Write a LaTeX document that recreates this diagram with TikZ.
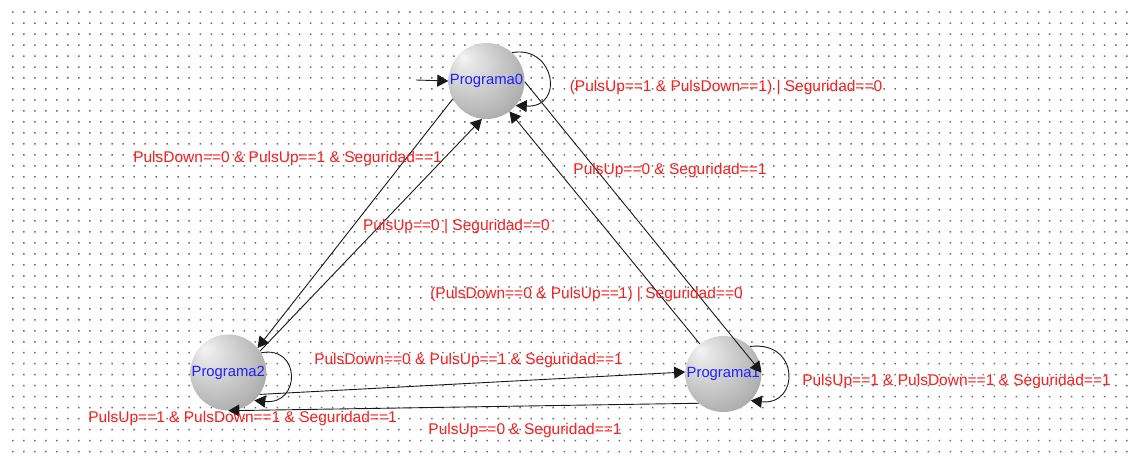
\documentclass[tikz,border=0pt]{standalone}
\usepackage{fontspec}
\setmainfont{Liberation Sans}
\usetikzlibrary{arrows.meta}
\definecolor{lblred}{RGB}{255,28,28}
\definecolor{stblue}{RGB}{30,30,255}
\pgfdeclareradialshading{sphereshade}{\pgfpoint{-16bp}{16bp}}{color(0bp)=(black!4); color(6bp)=(black!10); color(30bp)=(black!30); color(50bp)=(black!52)}
\begin{document}
\begin{tikzpicture}[x=1pt,y=-1pt,
  state/.style={circle, minimum size=76pt, inner sep=0pt, shading=sphereshade, text=stblue, font=\fontsize{14.8}{16}\selectfont},
  lbl/.style={text=lblred, font=\fontsize{15.5}{17}\selectfont, inner sep=0pt},
  tr/.style={draw=black!90, line width=0.9pt, -{Triangle[length=11pt,width=12pt]}}]
\useasboundingbox (0,0) rectangle (1134,461);
\fill[white] (0,0) rectangle (1134,461);
\fill[black!58] \foreach \i in {0,...,101} {\foreach \j in {0,...,40} {(12.0+11.03*\i, 11.3+10.99*\j) rectangle ++(1.5,1.5)}};
% states
\node[state] (p0) at (486.5,81) {\raisebox{4pt}{Programa0}};
\node[state] (p2) at (228.3,372.5) {\raisebox{3pt}{Programa2}};
\node[state] (p1) at (723.3,374) {\raisebox{3pt}{Programa1}};
% initial
\coordinate (init) at (416,80);
\draw[tr] (init) -- (p0.west);
% transitions
\draw[tr] (p0.208) -- (p2.40);
\draw[tr] (p2.34) -- (p0.-97);
\draw[tr] (p0.-1) -- (p1.2);
\draw[tr] (p1.128) -- (p0.-53);
\draw[tr] (p2.-35) -- (p1.177);
\draw[tr] (p1.-130) -- (p2.-90);
% self loops
\draw[tr] (p0.48) .. controls (555,45) and (565,108) .. (p0.-40);
\draw[tr] (p1.46) .. controls (800,340) and (800,406) .. (p1.-44);
\draw[tr] (p2.31) .. controls (301,345) and (301,405) .. (p2.-47);
% labels
\node[lbl] (l1) at (726,88) {(PulsUp==1 \& PulsDown==1) | Seguridad==0};
\node[lbl] (l2) at (287.5,158) {PulsDown==0 \& PulsUp==1 \& Seguridad==1};
\node[lbl] (l3) at (670,170) {PulsUp==0 \& Seguridad==1};
\node[lbl] (l4) at (456.5,227) {PulsUp==0 | Seguridad==0};
\node[lbl] (l5) at (586.5,295) {(PulsDown==0 \& PulsUp==1) | Seguridad==0};
\node[lbl] (l6) at (468.5,360) {PulsDown==0 \& PulsUp==1 \& Seguridad==1};
\node[lbl] (l7) at (956.5,381) {PulsUp==1 \& PulsDown==1 \& Seguridad==1};
\node[lbl] (l8) at (242.5,418) {PulsUp==1 \& PulsDown==1 \& Seguridad==1};
\node[lbl] (l9) at (525,430) {PulsUp==0 \& Seguridad==1};
\end{tikzpicture}
\end{document}
